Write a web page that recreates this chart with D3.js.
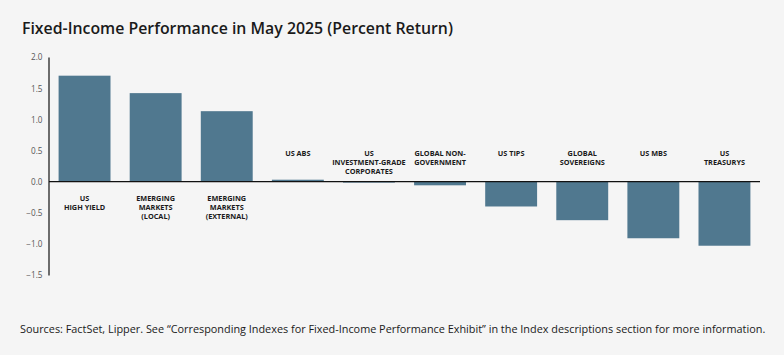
<!DOCTYPE html>
<html>
<head>
<meta charset="utf-8">
<script src="https://cdn.jsdelivr.net/npm/d3@7"></script>
<style>
  html, body { margin: 0; padding: 0; background: #f5f5f5; }
  svg { display: block; }
</style>
</head>
<body>
<script>
const categories = [
  ["US", "HIGH YIELD"],
  ["EMERGING", "MARKETS", "(LOCAL)"],
  ["EMERGING", "MARKETS", "(EXTERNAL)"],
  ["US ABS"],
  ["US", "INVESTMENT-GRADE", "CORPORATES"],
  ["GLOBAL NON-", "GOVERNMENT"],
  ["US TIPS"],
  ["GLOBAL", "SOVEREIGNS"],
  ["US MBS"],
  ["US", "TREASURYS"]
];
const values = [1.70, 1.42, 1.13, 0.03, -0.01, -0.06, -0.40, -0.62, -0.91, -1.03];
const yTicks = [2.0, 1.5, 1.0, 0.5, 0.0, -0.5, -1.0, -1.5];
const titleText = "Fixed-Income Performance in May 2025 (Percent Return)";
const sourceText = "Sources: FactSet, Lipper. See \u201cCorresponding Indexes for Fixed-Income Performance Exhibit\u201d in the Index descriptions section for more information.";

const W = 784, H = 355;
const svg = d3.select("body").append("svg").attr("width", W).attr("height", H);
svg.append("rect").attr("width", W).attr("height", H).attr("fill", "#f5f5f5");

const font = "'Open Sans', 'Noto Sans', sans-serif";

function fitText(sel, target) {
  const w = sel.node().getComputedTextLength();
  const fs = parseFloat(sel.attr("font-size"));
  sel.attr("font-size", (fs * target / w).toFixed(2));
}

const title = svg.append("text")
  .attr("x", 22).attr("y", 34)
  .attr("font-family", font).attr("font-weight", 600)
  .attr("font-size", 16).attr("fill", "#1a1a1a")
  .text(titleText);
fitText(title, 431);

const x = d3.scaleBand()
  .domain(d3.range(categories.length))
  .range([49, 760])
  .paddingInner(0.27)
  .paddingOuter(0.135);

const y = d3.scaleLinear().domain([-1.5, 2.0]).range([275, 57]);

// bars
svg.append("g").selectAll("rect")
  .data(values)
  .join("rect")
  .attr("x", (d, i) => x(i))
  .attr("width", x.bandwidth())
  .attr("y", d => y(Math.max(0, d)))
  .attr("height", d => Math.max(1, Math.abs(y(d) - y(0))))
  .attr("fill", "#50788f");

// zero line
svg.append("line")
  .attr("x1", 49).attr("x2", 760)
  .attr("y1", y(0)).attr("y2", y(0))
  .attr("stroke", "#111").attr("stroke-width", 1.2);

// y axis
const yAxis = d3.axisLeft(y).tickValues(yTicks).tickSize(0).tickPadding(6)
  .tickFormat(d3.format(".1f"));
const ga = svg.append("g").attr("transform", "translate(48.5,0)").call(yAxis);
ga.select(".domain").attr("stroke", "#111").attr("stroke-width", 1.2);
ga.selectAll("text").attr("font-family", font).attr("font-size", 8.2)
  .attr("fill", "#555").attr("dy", "0.35em");

// category labels
const lg = svg.append("g");
categories.forEach((lines, i) => {
  const cx = x(i) + x.bandwidth() / 2;
  const neg = values[i] < 0 || i === 3;
  const startY = neg ? 153.7 : 198.7;
  const t = lg.append("text")
    .attr("text-anchor", "middle")
    .attr("font-family", font).attr("font-weight", 700)
    .attr("font-size", 7.3).attr("fill", "#1a1a1a");
  lines.forEach((l, j) => {
    t.append("tspan").attr("x", cx).attr("y", startY + j * 9).attr("dy", "0.35em").text(l);
  });
});

const src = svg.append("text")
  .attr("x", 20).attr("y", 333)
  .attr("font-family", font).attr("font-size", 11).attr("fill", "#1a1a1a")
  .text(sourceText);
fitText(src, 745);
</script>
</body>
</html>
